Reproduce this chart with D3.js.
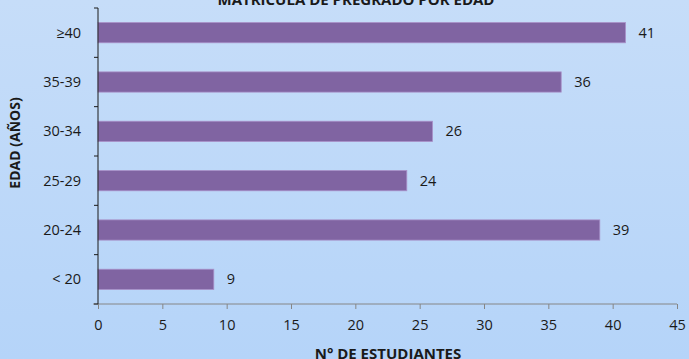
<!DOCTYPE html>
<html>
<head>
<meta charset="utf-8">
<script src="https://cdn.jsdelivr.net/npm/d3@7"></script>
<style>
  html, body { margin: 0; padding: 0; }
  body { width: 689px; height: 359px; overflow: hidden; }
  text { font-family: "Open Sans", sans-serif; fill: #1a1a1a; }
</style>
</head>
<body>
<div id="chart"></div>
<script>
// age groups, top to bottom as drawn
var categories = ['≥40', '35-39', '30-34', '25-29', '20-24', '< 20'];
var students = [41, 36, 26, 24, 39, 9];
var xTicks = [0, 5, 10, 15, 20, 25, 30, 35, 40, 45];

var width = 689, height = 359,
    margin = {top: 8, right: 12, bottom: 55, left: 98},
    axisY = 304;

var svg = d3.select('#chart').append('svg')
  .attr('width', width).attr('height', height);

var grad = svg.append('defs').append('linearGradient')
  .attr('id', 'bg').attr('x1', 0).attr('y1', 0).attr('x2', 0).attr('y2', 1);
grad.append('stop').attr('offset', '0%').attr('stop-color', '#c6ddf9');
grad.append('stop').attr('offset', '100%').attr('stop-color', '#b5d4f9');

svg.append('rect').attr('width', width).attr('height', height).attr('fill', 'url(#bg)');

var x = d3.scaleLinear().domain([0, 45]).range([margin.left, 677]);
var y = d3.scaleBand().domain(categories).range([margin.top, axisY]).paddingInner(0.59).paddingOuter(0.295);
var band = d3.scaleBand().domain(categories).range([margin.top, axisY]);

// bars
svg.append('g').selectAll('rect').data(categories).enter().append('rect')
  .attr('x', x(0))
  .attr('y', function (d) { return y(d); })
  .attr('width', function (d, i) { return x(students[i]) - x(0); })
  .attr('height', y.bandwidth())
  .attr('fill', '#8064a2')
  .attr('stroke', '#a890c8')
  .attr('stroke-width', 0.8);

// value labels
svg.append('g').selectAll('text').data(categories).enter().append('text')
  .attr('x', function (d, i) { return x(students[i]) + 13; })
  .attr('y', function (d) { return y(d) + y.bandwidth() / 2; })
  .attr('dy', '0.35em')
  .style('font-size', '14.5px')
  .text(function (d, i) { return students[i]; });

// x axis
var xAxis = svg.append('g').attr('transform', 'translate(0,' + axisY + ')')
  .call(d3.axisBottom(x).tickValues(xTicks).tickSize(5).tickSizeOuter(0).tickPadding(11));
xAxis.select('.domain').attr('d', 'M93,0H' + x(45)).attr('stroke', '#868686');
xAxis.selectAll('.tick line').attr('stroke', '#868686');
xAxis.selectAll('text').style('font-size', '14.5px').style('font-family', '"Open Sans", sans-serif').attr('fill', '#1a1a1a');

// y axis with ticks between categories
var yg = svg.append('g').attr('transform', 'translate(' + x(0) + ',0)');
yg.append('line').attr('y1', margin.top).attr('y2', axisY).attr('stroke', '#1a1a1a');
var yTickPos = categories.map(function (d) { return band(d); }).concat([axisY]);
yg.selectAll('.yt').data(yTickPos).enter().append('line')
  .attr('x1', -4).attr('x2', 0)
  .attr('y1', function (d) { return d; }).attr('y2', function (d) { return d; })
  .attr('stroke', '#1a1a1a');
yg.selectAll('.yl').data(categories).enter().append('text')
  .attr('x', -17)
  .attr('y', function (d) { return y(d) + y.bandwidth() / 2; })
  .attr('dy', '0.35em')
  .attr('text-anchor', 'end')
  .style('font-size', '14.5px')
  .text(function (d) { return d; });

// titles (the source image crops the chart title and the x title at its edges)
svg.append('text').attr('x', 356).attr('y', 5).attr('text-anchor', 'middle')
  .style('font-size', '15px').style('font-weight', 'bold')
  .text('MATRICULA DE PREGRADO POR EDAD');
svg.append('text').attr('x', 388).attr('y', 359).attr('text-anchor', 'middle')
  .style('font-size', '15px').style('font-weight', 'bold')
  .text('N° DE ESTUDIANTES');
svg.append('text').attr('transform', 'translate(20,143) rotate(-90)').attr('text-anchor', 'middle')
  .style('font-size', '14px').style('font-weight', 'bold')
  .text('EDAD (AÑOS)');
</script>
</body>
</html>
